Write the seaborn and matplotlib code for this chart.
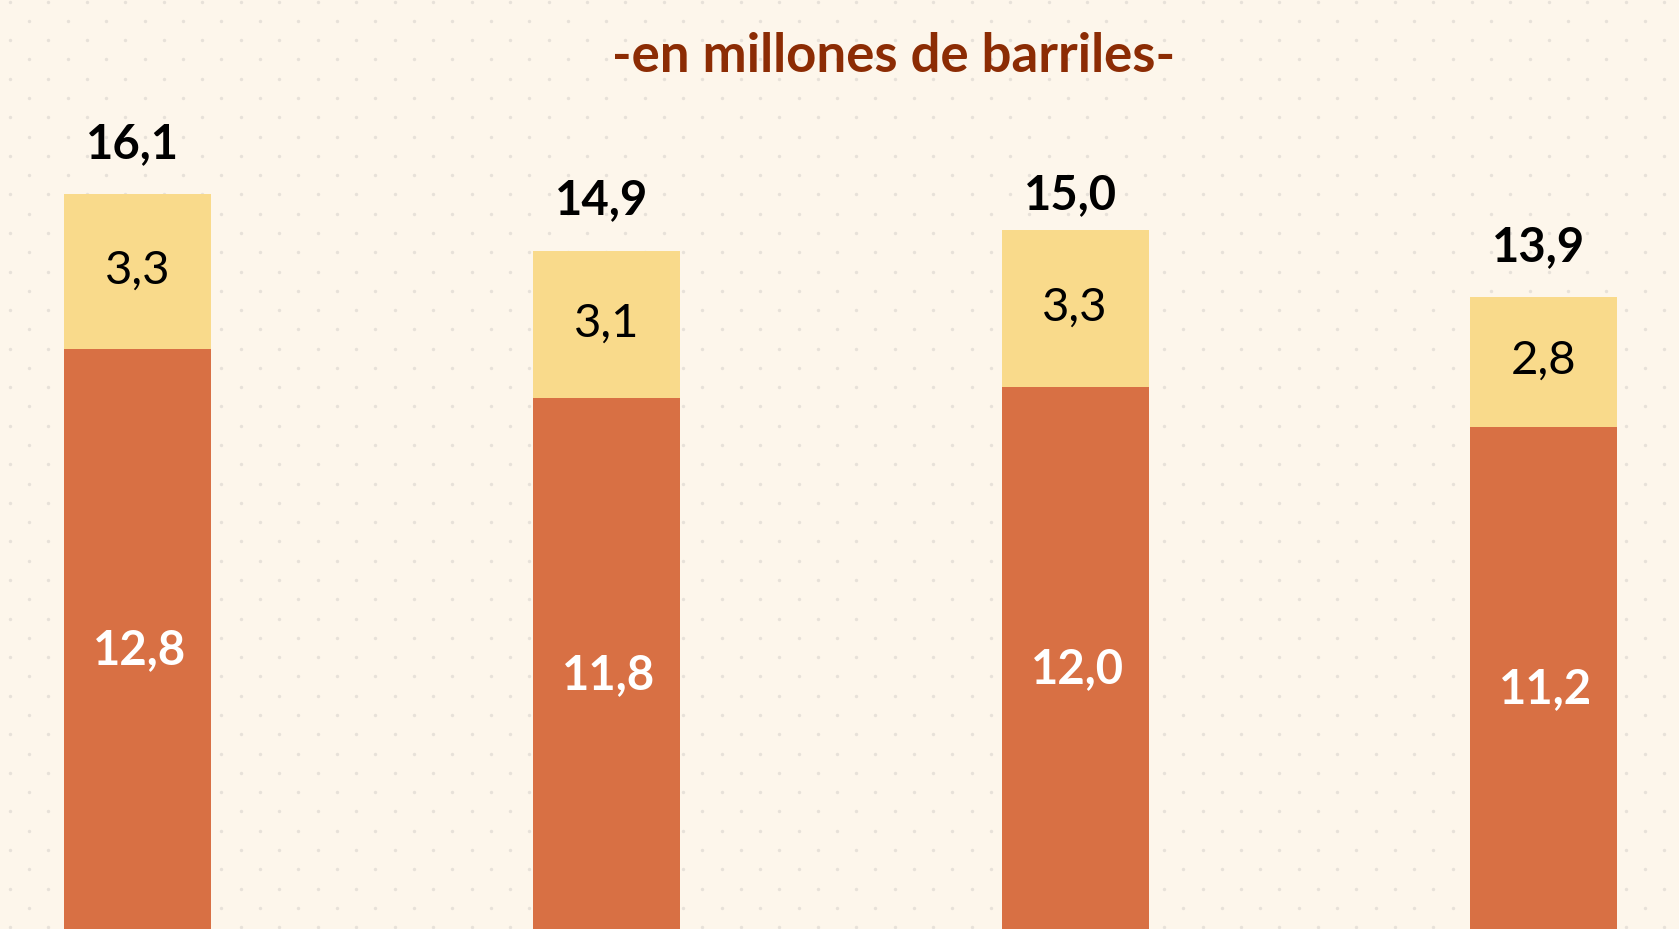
import numpy as np
import pandas as pd
import matplotlib
matplotlib.use("Agg")
import matplotlib.pyplot as plt
import seaborn as sns

# ---- data ----
periods = ["P1", "P2", "P3", "P4"]
base_values = [12.82, 11.78, 12.02, 11.16]   # orange (lower) segment
top_values = [3.29, 3.12, 3.33, 2.77]        # yellow (upper) segment
total_labels = [16.1, 14.9, 15.0, 13.9]      # totals printed above bars
title_text = "-en millones de barriles-"

# ---- styles ----
BG = "#fdf6eb"
DOT = "#e7e1d9"
ORANGE = "#d87044"
YELLOW = "#f9da8b"
TITLE_C = "#8c2c04"

sns.set_theme(style="white")
plt.rcParams["font.family"] = ["Lato", "DejaVu Sans"]

W, H, DPI = 1679, 929, 100
fig = plt.figure(figsize=(W / DPI + 0.001, H / DPI + 0.001), dpi=DPI, facecolor=BG)

# background dotted pattern (decoration)
bg = fig.add_axes([0, 0, 1, 1], zorder=0)
bg.set_xlim(0, W)
bg.set_ylim(H, 0)
bg.axis("off")
bg.set_facecolor(BG)
xs, ys = [], []
row_y = 1.67
i = 0
while row_y < H + 10:
    x0 = 9.9 if i % 2 == 0 else 29.1
    xx = np.arange(x0, W + 10, 38.47)
    xs.append(xx)
    ys.append(np.full_like(xx, row_y))
    i += 1
    row_y += 19.28
bg.scatter(np.concatenate(xs), np.concatenate(ys), s=6, color=DOT, linewidths=0)

# main chart
ax = fig.add_axes([0, 0, 1, 1], zorder=1)
ax.patch.set_alpha(0)

df = pd.DataFrame({
    "periodo": periods,
    "base": base_values,
    "top": top_values,
})
df["sum"] = df["base"] + df["top"]

bw = 147 / 468.8
sns.barplot(data=df, x="periodo", y="sum", color=YELLOW, saturation=1,
            width=bw, linewidth=0, ax=ax)
sns.barplot(data=df, x="periodo", y="base", color=ORANGE, saturation=1,
            width=bw, linewidth=0, ax=ax)

px_per_unit = 47.1
zero_px = 953
ax.set_xlim(-137.5 / 468.8, (W - 137.5) / 468.8)
ax.set_ylim((zero_px - H) / px_per_unit, zero_px / px_per_unit)
ax.axis("off")

pt = 72 / DPI
for k in range(len(periods)):
    b = base_values[k]
    t = top_values[k]
    tot = total_labels[k]
    ax.annotate(f"{tot:.1f}".replace(".", ","), (k, tot),
                xytext=(-5 * pt, 51 * pt), textcoords="offset points",
                ha="center", va="center", fontsize=34, fontweight="bold",
                color="black")
    ax.annotate(f"{t:.1f}".replace(".", ","), (k, b + t / 2),
                xytext=(0, 1 * pt), textcoords="offset points",
                ha="center", va="center", fontsize=34, color="black")
    ax.annotate(f"{b:.1f}".replace(".", ","), (k, b / 2),
                xytext=(2 * pt, 1 * pt), textcoords="offset points",
                ha="center", va="center", fontsize=34, fontweight="bold",
                color="white")

fig.text(893.5 / W, 1 - 72 / H, title_text, ha="center", va="baseline",
         fontsize=38, fontweight="bold", color=TITLE_C)

fig.savefig("out.png", dpi=DPI, facecolor=BG)
